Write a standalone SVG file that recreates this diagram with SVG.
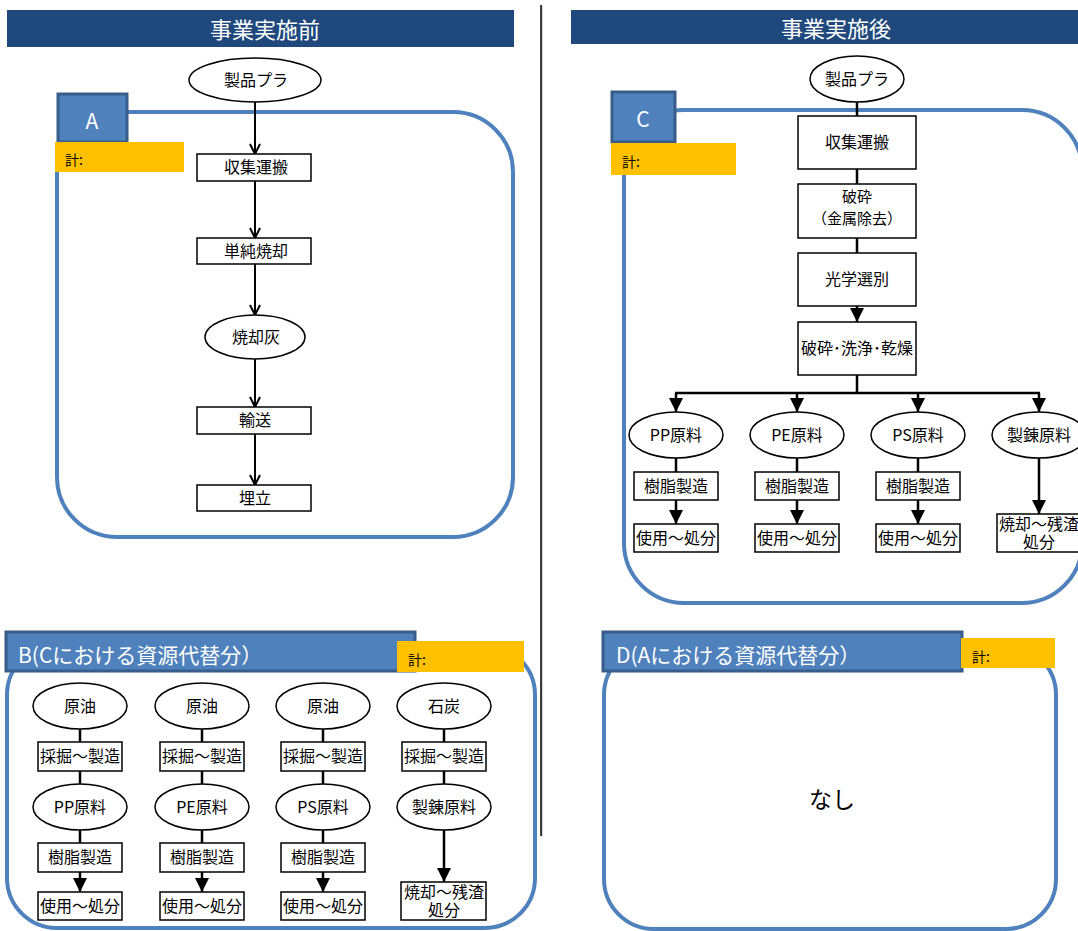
<svg xmlns="http://www.w3.org/2000/svg" width="1078" height="931" viewBox="0 0 1078 931">
<defs>
<style>
text{font-family:"Noto Sans CJK JP","Noto Sans",sans-serif;fill:#000;}
.hdr{fill:#1F497D;}
.hdrt{fill:#fff;font-size:22px;text-anchor:middle;}
.frame{fill:none;stroke:#4F81BD;stroke-width:4;}
.tab{fill:#4F81BD;stroke:#385D8A;stroke-width:3;}
.tabt{fill:#fff;font-size:21px;}
.kei{fill:#FFC000;}
.keit{font-size:14px;}
.box{fill:#fff;stroke:#000;stroke-width:1.5;}
.ell{fill:#fff;stroke:#000;stroke-width:1.5;}
.t{font-size:16px;text-anchor:middle;}
.t2{font-size:15px;text-anchor:middle;}
.c{fill:none;stroke:#000;stroke-width:2;}
.cf{fill:none;stroke:#000;stroke-width:2.5;}
</style>
<marker id="open" viewBox="0 0 12 12" refX="11" refY="6" markerWidth="12" markerHeight="12" orient="auto" markerUnits="userSpaceOnUse">
<path d="M1,1 L11,6 L1,11" fill="none" stroke="#000" stroke-width="2"/>
</marker>
<marker id="fill" viewBox="0 0 14 14" refX="14" refY="7" markerWidth="14" markerHeight="14" orient="auto" markerUnits="userSpaceOnUse">
<path d="M0,0 L14,7 L0,14 Z" fill="#000"/>
</marker>
</defs>
<rect width="1078" height="931" fill="#fff"/>

<!-- headers -->
<g id="header-before">
<rect class="hdr" x="7" y="10" width="507" height="37"/>
<text class="hdrt" x="265" y="38">事業実施前</text>
</g>
<g id="header-after">
<rect class="hdr" x="571" y="10" width="507" height="34"/>
<text class="hdrt" x="836" y="37">事業実施後</text>
</g>
<g id="divider">
<line x1="542" y1="6" x2="542" y2="837" stroke="#c8c8c8" stroke-width="1.5"/>
<line x1="541" y1="5" x2="541" y2="836" stroke="#000" stroke-width="1.5"/>
</g>

<!-- frames -->
<g id="frame-A">
<rect class="frame" x="57" y="112" width="456" height="425" rx="60" ry="60"/>
<rect class="tab" x="58" y="94" width="69" height="48"/>
<text class="tabt" x="92" y="129" text-anchor="middle">A</text>
<rect class="kei" x="55" y="142" width="129" height="30"/>
<text class="keit" x="65" y="165">計:</text>
</g>
<g id="frame-C">
<rect class="frame" x="624" y="110" width="458" height="493" rx="60" ry="60"/>
<rect class="tab" x="612" y="92" width="63" height="50"/>
<text class="tabt" x="643" y="127" text-anchor="middle">C</text>
<rect class="kei" x="611" y="143" width="125" height="32"/>
<text class="keit" x="622" y="167">計:</text>
</g>
<g id="frame-B">
<rect class="frame" x="7" y="645" width="528" height="283" rx="50" ry="50"/>
<rect class="tab" x="6" y="632" width="409" height="39"/>
<text class="tabt" x="18" y="663">B(Cにおける資源代替分）</text>
<rect class="kei" x="397" y="641" width="127" height="31"/>
<text class="keit" x="408" y="665">計:</text>
</g>
<g id="frame-D">
<rect class="frame" x="604" y="645" width="452" height="284" rx="50" ry="50"/>
<rect class="tab" x="603" y="632" width="359" height="39"/>
<text class="tabt" x="616" y="663">D(Aにおける資源代替分）</text>
<rect class="kei" x="961" y="638" width="94" height="30"/>
<text class="keit" x="972" y="662">計:</text>
<text x="832" y="808" font-size="23" text-anchor="middle">なし</text>
</g>

<!-- connectors -->
<g id="connectors">
<line class="c" x1="255" y1="102" x2="255" y2="154" marker-end="url(#open)"/>
<line class="c" x1="255" y1="181" x2="255" y2="238" marker-end="url(#open)"/>
<line class="c" x1="255" y1="264" x2="255" y2="315" marker-end="url(#open)"/>
<line class="c" x1="255" y1="359" x2="255" y2="407" marker-end="url(#open)"/>
<line class="c" x1="255" y1="434" x2="255" y2="485" marker-end="url(#open)"/>

<line class="cf" x1="857" y1="102" x2="857" y2="116"/>
<line class="cf" x1="857" y1="169" x2="857" y2="184"/>
<line class="cf" x1="857" y1="238" x2="857" y2="253"/>
<line class="cf" x1="857" y1="306" x2="857" y2="322" marker-end="url(#fill)"/>
<polyline class="cf" points="857,375 857,393"/>
<line class="cf" x1="675" y1="393" x2="1040" y2="393"/>
<line class="cf" x1="676" y1="393" x2="676" y2="412" marker-end="url(#fill)"/>
<line class="cf" x1="797" y1="393" x2="797" y2="412" marker-end="url(#fill)"/>
<line class="cf" x1="918" y1="393" x2="918" y2="412" marker-end="url(#fill)"/>
<line class="cf" x1="1039" y1="393" x2="1039" y2="412" marker-end="url(#fill)"/>
<line class="cf" x1="676" y1="458" x2="676" y2="472"/>
<line class="cf" x1="797" y1="458" x2="797" y2="472"/>
<line class="cf" x1="918" y1="458" x2="918" y2="472"/>
<line class="cf" x1="676" y1="500" x2="676" y2="524" marker-end="url(#fill)"/>
<line class="cf" x1="797" y1="500" x2="797" y2="524" marker-end="url(#fill)"/>
<line class="cf" x1="918" y1="500" x2="918" y2="524" marker-end="url(#fill)"/>
<line class="cf" x1="1039" y1="458" x2="1039" y2="514" marker-end="url(#fill)"/>

<line class="cf" x1="80" y1="729" x2="80" y2="742"/>
<line class="cf" x1="80" y1="771" x2="80" y2="784"/>
<line class="cf" x1="80" y1="830" x2="80" y2="843"/>
<line class="cf" x1="80" y1="872" x2="80" y2="892" marker-end="url(#fill)"/>
<line class="cf" x1="202" y1="729" x2="202" y2="742"/>
<line class="cf" x1="202" y1="771" x2="202" y2="784"/>
<line class="cf" x1="202" y1="830" x2="202" y2="843"/>
<line class="cf" x1="202" y1="872" x2="202" y2="892" marker-end="url(#fill)"/>
<line class="cf" x1="323" y1="729" x2="323" y2="742"/>
<line class="cf" x1="323" y1="771" x2="323" y2="784"/>
<line class="cf" x1="323" y1="830" x2="323" y2="843"/>
<line class="cf" x1="323" y1="872" x2="323" y2="892" marker-end="url(#fill)"/>
<line class="cf" x1="444" y1="729" x2="444" y2="742"/>
<line class="cf" x1="444" y1="771" x2="444" y2="784"/>
<line class="cf" x1="444" y1="830" x2="444" y2="882" marker-end="url(#fill)"/>
</g>

<!-- A nodes -->
<g id="a-seihin"><ellipse class="ell" cx="255" cy="80" rx="66" ry="22"/><text class="t" x="256" y="86">製品プラ</text></g>
<g id="a-shushu"><rect class="box" x="197" y="154" width="114" height="27"/><text class="t" x="256" y="173">収集運搬</text></g>
<g id="a-shokyaku"><rect class="box" x="197" y="238" width="114" height="26"/><text class="t" x="256" y="257">単純焼却</text></g>
<g id="a-hai"><ellipse class="ell" cx="255" cy="337" rx="50" ry="22"/><text class="t" x="256" y="343">焼却灰</text></g>
<g id="a-yuso"><rect class="box" x="197" y="407" width="114" height="27"/><text class="t" x="255" y="426">輸送</text></g>
<g id="a-umetate"><rect class="box" x="197" y="485" width="114" height="26"/><text class="t" x="255" y="504">埋立</text></g>

<!-- C nodes -->
<g id="c-seihin"><ellipse class="ell" cx="857" cy="79" rx="47" ry="23"/><text class="t" x="857" y="85">製品プラ</text></g>
<g id="c-shushu"><rect class="box" x="798" y="116" width="118" height="53"/><text class="t" x="857" y="148">収集運搬</text></g>
<g id="c-hasai"><rect class="box" x="798" y="184" width="118" height="54"/><text class="t2" x="857" y="202"><tspan x="857" y="202">破砕</tspan><tspan x="857" y="224">（金属除去）</tspan></text></g>
<g id="c-kogaku"><rect class="box" x="798" y="253" width="118" height="53"/><text class="t" x="857" y="285">光学選別</text></g>
<g id="c-senjo"><rect class="box" x="798" y="322" width="118" height="53"/><text class="t" x="857" y="354">破砕･洗浄･乾燥</text></g>
<g id="c-pp"><ellipse class="ell" cx="676" cy="435" rx="47" ry="23"/><text class="t" x="676" y="441">PP原料</text></g>
<g id="c-pe"><ellipse class="ell" cx="797" cy="435" rx="47" ry="23"/><text class="t" x="797" y="441">PE原料</text></g>
<g id="c-ps"><ellipse class="ell" cx="918" cy="435" rx="47" ry="23"/><text class="t" x="918" y="441">PS原料</text></g>
<g id="c-seiren"><ellipse class="ell" cx="1039" cy="435" rx="47" ry="23"/><text class="t" x="1039" y="441">製錬原料</text></g>
<g id="c-jushi-pp"><rect class="box" x="634" y="472" width="84" height="28"/><text class="t" x="676" y="492">樹脂製造</text></g>
<g id="c-jushi-pe"><rect class="box" x="755" y="472" width="84" height="28"/><text class="t" x="797" y="492">樹脂製造</text></g>
<g id="c-jushi-ps"><rect class="box" x="876" y="472" width="84" height="28"/><text class="t" x="918" y="492">樹脂製造</text></g>
<g id="c-shiyo-pp"><rect class="box" x="634" y="524" width="84" height="28"/><text class="t" x="676" y="544">使用～処分</text></g>
<g id="c-shiyo-pe"><rect class="box" x="755" y="524" width="84" height="28"/><text class="t" x="797" y="544">使用～処分</text></g>
<g id="c-shiyo-ps"><rect class="box" x="876" y="524" width="84" height="28"/><text class="t" x="918" y="544">使用～処分</text></g>
<g id="c-zansa"><rect class="box" x="997" y="514" width="86" height="38"/><text class="t" x="1039" y="530"><tspan x="1039" y="530">焼却～残渣</tspan><tspan x="1039" y="548">処分</tspan></text></g>

<!-- B nodes -->
<g id="b-genyu1"><ellipse class="ell" cx="80" cy="706" rx="47" ry="23"/><text class="t" x="80" y="712">原油</text></g>
<g id="b-genyu2"><ellipse class="ell" cx="202" cy="706" rx="47" ry="23"/><text class="t" x="202" y="712">原油</text></g>
<g id="b-genyu3"><ellipse class="ell" cx="323" cy="706" rx="47" ry="23"/><text class="t" x="323" y="712">原油</text></g>
<g id="b-sekitan"><ellipse class="ell" cx="444" cy="706" rx="47" ry="23"/><text class="t" x="444" y="712">石炭</text></g>
<g id="b-saikutsu1"><rect class="box" x="38" y="742" width="84" height="29"/><text class="t" x="80" y="762">採掘～製造</text></g>
<g id="b-saikutsu2"><rect class="box" x="160" y="742" width="84" height="29"/><text class="t" x="202" y="762">採掘～製造</text></g>
<g id="b-saikutsu3"><rect class="box" x="281" y="742" width="84" height="29"/><text class="t" x="323" y="762">採掘～製造</text></g>
<g id="b-saikutsu4"><rect class="box" x="402" y="742" width="84" height="29"/><text class="t" x="444" y="762">採掘～製造</text></g>
<g id="b-pp"><ellipse class="ell" cx="80" cy="807" rx="47" ry="23"/><text class="t" x="80" y="813">PP原料</text></g>
<g id="b-pe"><ellipse class="ell" cx="202" cy="807" rx="47" ry="23"/><text class="t" x="202" y="813">PE原料</text></g>
<g id="b-ps"><ellipse class="ell" cx="323" cy="807" rx="47" ry="23"/><text class="t" x="323" y="813">PS原料</text></g>
<g id="b-seiren"><ellipse class="ell" cx="444" cy="807" rx="47" ry="23"/><text class="t" x="444" y="813">製錬原料</text></g>
<g id="b-jushi1"><rect class="box" x="38" y="843" width="84" height="29"/><text class="t" x="80" y="863">樹脂製造</text></g>
<g id="b-jushi2"><rect class="box" x="160" y="843" width="84" height="29"/><text class="t" x="202" y="863">樹脂製造</text></g>
<g id="b-jushi3"><rect class="box" x="281" y="843" width="84" height="29"/><text class="t" x="323" y="863">樹脂製造</text></g>
<g id="b-shiyo1"><rect class="box" x="38" y="892" width="84" height="28"/><text class="t" x="80" y="912">使用～処分</text></g>
<g id="b-shiyo2"><rect class="box" x="160" y="892" width="84" height="28"/><text class="t" x="202" y="912">使用～処分</text></g>
<g id="b-shiyo3"><rect class="box" x="281" y="892" width="84" height="28"/><text class="t" x="323" y="912">使用～処分</text></g>
<g id="b-zansa"><rect class="box" x="401" y="882" width="85" height="38"/><text class="t" x="444" y="898"><tspan x="444" y="898">焼却～残渣</tspan><tspan x="444" y="916">処分</tspan></text></g>
</svg>
